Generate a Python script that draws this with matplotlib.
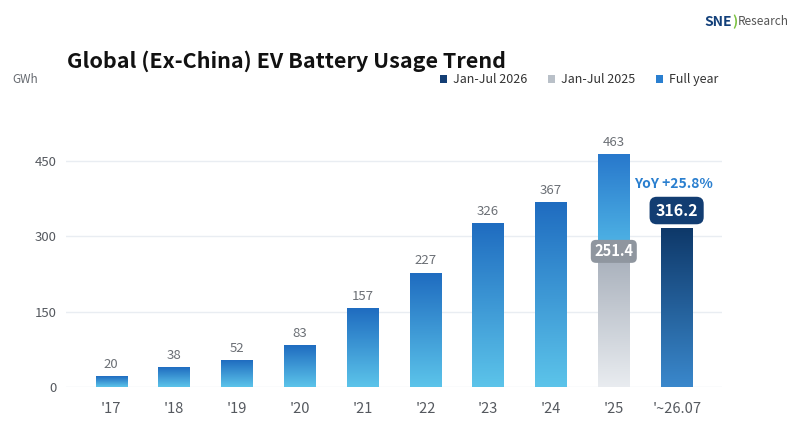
import numpy as np
import matplotlib
matplotlib.use("Agg")
import matplotlib.pyplot as plt
from matplotlib.colors import to_rgb

categories = ["'17", "'18", "'19", "'20", "'21", "'22", "'23", "'24", "'25", "'~26.07"]
full_year = [20, 38, 52, 83, 157, 227, 326, 367, 463]
jan_jul_2025 = 251.4
jan_jul_2026 = 316.2
yoy_label = "YoY +25.8%"
yticks = [0, 150, 300, 450]

FONT = ["Noto Sans CJK KR", "DejaVu Sans"]
plt.rcParams["font.family"] = FONT

fig = plt.figure(figsize=(7.95, 4.21), dpi=100)
ax = fig.add_axes([0.083, 0.081, 0.825, 0.584])

W = 0.5
ylim_top = 490


def grad_bar(x, y0, y1, c_top, c_bot):
    ct, cb = np.array(to_rgb(c_top)), np.array(to_rgb(c_bot))
    t = np.linspace(0, 1, 256)[:, None]
    img = (cb * (1 - t) + ct * t)[:, None, :]
    ax.imshow(img, extent=[x - W / 2, x + W / 2, y0, y1], origin="lower",
              aspect="auto", interpolation="bicubic", zorder=3)


grey_txt = "#6b6f75"
for i, v in enumerate(full_year):
    if i < 8:
        grad_bar(i, 0, v, "#1f6cc0", "#5cc4ea")
    else:
        grad_bar(i, jan_jul_2025, v, "#2878cc", "#55bde9")
        grad_bar(i, 0, jan_jul_2025, "#aab2bd", "#e9ecf0")
    ax.annotate(f"{v:g}", (i, v), xytext=(0, 4), textcoords="offset points",
                ha="center", va="bottom", fontsize=9.5, color=grey_txt, zorder=5)

# 2025 Jan-Jul label box
ax.annotate(f"{jan_jul_2025:.1f}", (8, jan_jul_2025), xytext=(0, 1), textcoords="offset points",
            ha="center", va="bottom", fontsize=10.5, fontweight="bold", color="white", zorder=6,
            bbox=dict(boxstyle="round,pad=0.24,rounding_size=0.35", fc="#8f969f", ec="none"))

# 2026 bar
grad_bar(9, 0, jan_jul_2026, "#0e3869", "#3a88cc")
ax.annotate(f"{jan_jul_2026:.1f}", (9, jan_jul_2026), xytext=(0, 7), textcoords="offset points",
            ha="center", va="bottom", fontsize=11.5, fontweight="bold", color="white", zorder=6,
            bbox=dict(boxstyle="round,pad=0.36,rounding_size=0.45", fc="#123d72", ec="none"))
ax.annotate(yoy_label, (9, jan_jul_2026), xytext=(-2, 27), textcoords="offset points",
            ha="center", va="bottom", fontsize=10, fontweight="bold", color="#2a7fcf", zorder=6)

ax.set_xlim(-0.72, 9.72)
ax.set_ylim(0, ylim_top)
ax.set_yticks(yticks)
ax.set_yticklabels([str(t) for t in yticks], fontsize=9.5, color="#55595f")
ax.set_xticks(range(len(categories)))
ax.set_xticklabels(categories, fontsize=10.5, color="#55595f")
ax.tick_params(axis="x", length=0, pad=11)
ax.tick_params(axis="y", length=0, pad=7)
for s in ax.spines.values():
    s.set_visible(False)
ax.grid(axis="y", color="#e9edf2", linewidth=1, zorder=0)
ax.set_axisbelow(True)

# titles and annotations
fig.text(0.084, 0.855, "Global (Ex-China) EV Battery Usage Trend", fontsize=15.5,
         fontweight="bold", color="#111111", ha="left", va="center")
fig.text(0.015, 0.812, "GWh", fontsize=8.5, color="#666a70", ha="left", va="center")

# legend
leg_items = [("Jan-Jul 2026", "#143e74", 0.553), ("Jan-Jul 2025", "#b9c0c8", 0.689),
             ("Full year", "#2a7fd0", 0.825)]
for label, col, xf in leg_items:
    fig.patches.append(plt.Rectangle((xf, 0.803), 0.0095, 0.018, transform=fig.transFigure,
                                     fc=col, ec="none"))
    fig.text(xf + 0.017, 0.812, label, fontsize=9, color="#333333", ha="left", va="center")

# logo
fig.text(0.886, 0.948, "SNE", fontsize=10, fontweight="bold", color="#13407a", ha="left", va="center")
fig.text(0.921, 0.948, ")", fontsize=10, fontweight="bold", color="#7cc242", ha="left", va="center")
fig.text(0.928, 0.948, "Research", fontsize=8.5, color="#555555", ha="left", va="center")

fig.savefig("out.png", dpi=100, facecolor="white")
